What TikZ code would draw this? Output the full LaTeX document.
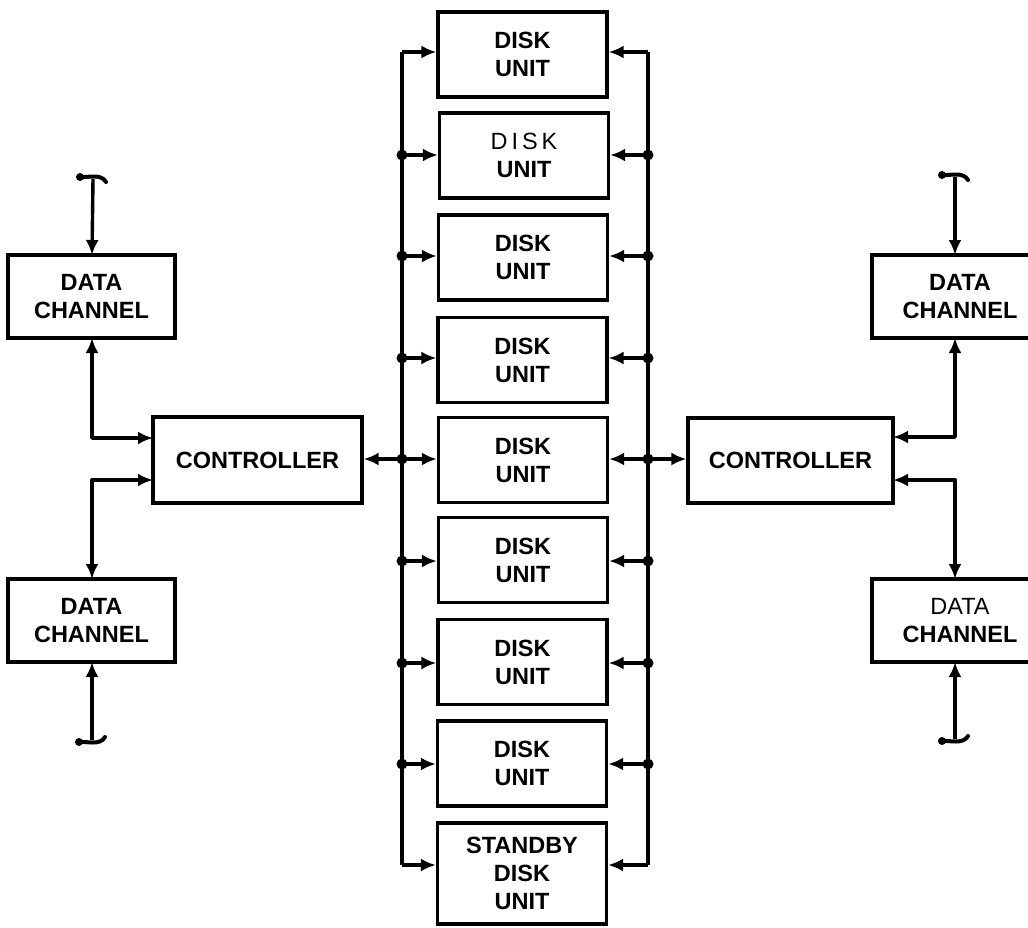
\documentclass[tikz,border=0pt]{standalone}
\usepackage{fontspec}
\setmainfont{Liberation Sans}
\usetikzlibrary{arrows.meta,calc}
\tikzset{
  box/.style={draw,line width=3.2pt,align=center,inner sep=0pt,
    font=\fontsize{23.5}{28}\selectfont\bfseries},
  disk/.style={box,minimum width=169pt,minimum height=85pt},
  wire/.style={line width=3.4pt,line join=round},
  arr/.style={wire,-{Latex[length=15pt,width=13pt]}},
  arrs/.style={wire,{Latex[length=15pt,width=13pt]}-{Latex[length=15pt,width=13pt]}},
  jdot/.style={circle,fill,inner sep=0pt,minimum size=11pt},
  brk/.style={line width=4pt,line cap=round},
}
\begin{document}
\begin{tikzpicture}[x=1pt,y=-1pt]
\useasboundingbox (0,0) rectangle (1028,927);
\clip (0,0) rectangle (1028,927);
% disk units
\node[disk] (d1) at (522.5,54.5) {DISK\\UNIT};
\node[disk] (d2) at (524,155.5) {{\mdseries D\,I\,S\,K}\\UNIT};
\node[disk] (d3) at (523,257.5) {DISK\\UNIT};
\node[disk] (d4) at (522.5,360) {DISK\\UNIT};
\node[disk] (d5) at (523,460) {DISK\\UNIT};
\node[disk] (d6) at (523,560) {DISK\\UNIT};
\node[disk] (d7) at (522.5,662) {DISK\\UNIT};
\node[disk] (d8) at (522,763.5) {DISK\\UNIT};
\node[box,minimum width=169pt,minimum height=101pt] (d9) at (522,873.5) {STANDBY\\DISK\\UNIT};
% controllers
\node[box,minimum width=209pt,minimum height=86pt] (ctlL) at (257.5,460) {CONTROLLER};
\node[box,minimum width=205pt,minimum height=85pt] (ctlR) at (790.5,460.5) {CONTROLLER};
% data channels
\node[box,minimum width=167pt,minimum height=83pt] (dcL1) at (91.5,296.5) {DATA\\CHANNEL};
\node[box,minimum width=167pt,minimum height=83pt] (dcL2) at (91.5,620.5) {DATA\\CHANNEL};
\node[box,minimum width=176pt,minimum height=83pt] (dcR1) at (960,296.5) {DATA\\CHANNEL};
\node[box,minimum width=176pt,minimum height=83pt] (dcR2) at (960,620.5) {{\mdseries DATA}\\CHANNEL};
% bus coordinates
\foreach \i/\y in {1/52,2/155,3/256,4/358,5/459,6/561,7/663,8/764,9/865}{
  \coordinate (l\i) at (402,\y);
  \coordinate (r\i) at (648,\y);
}
\draw[wire] (l1) -- (l9);
\draw[wire] (r1) -- (r9);
\foreach \i in {1,...,9}{
  \draw[arr] (l\i) -- (l\i -| d\i.west);
  \draw[arr] (r\i) -- (r\i -| d\i.east);
}
\foreach \i in {2,...,8}{
  \node[jdot] at (l\i) {};
  \node[jdot] at (r\i) {};
}
% controller to bus
\draw[arr] (l5) -- (l5 -| ctlL.east);
\draw[arr] (r5) -- (r5 -| ctlR.west);
% left data channels
\coordinate (cl1) at (153,438);
\coordinate (cl2) at (153,480);
\coordinate (lx1) at (92,338);
\coordinate (lx2) at (92,579);
\draw[arrs] (lx1) |- (cl1);
\draw[arrs] (lx2) |- (cl2);
% right data channels
\coordinate (cr1) at (893,437);
\coordinate (cr2) at (893,480);
\coordinate (rx1) at (955,338);
\coordinate (rx2) at (955,579);
\draw[arrs] (rx1) |- (cr1);
\draw[arrs] (rx2) |- (cr2);
% breaks
\coordinate (bL1) at (93,179);
\coordinate (bL2) at (92,740);
\coordinate (bR1) at (955,177);
\coordinate (bR2) at (955,739);
\draw[arr] (bL1) -- (92,255);
\draw[arr] (bL2) -- (92,662);
\draw[arr] (bR1) -- (955,255);
\draw[arr] (bR2) -- (955,662);
\foreach \b in {bL1,bR1}{
  \draw[brk] ($(\b)+(-13,-2)$) .. controls ($(\b)+(-6,-1)$) and ($(\b)+(8,-6)$) .. ($(\b)+(13,3)$);
  \fill ($(\b)+(-13,-2)$) circle (4pt);
}
\foreach \b in {bL2,bR2}{
  \draw[brk] ($(\b)+(-13,2)$) .. controls ($(\b)+(-6,1)$) and ($(\b)+(8,6)$) .. ($(\b)+(13,-3)$);
  \fill ($(\b)+(-13,2)$) circle (4pt);
}
\end{tikzpicture}
\end{document}
